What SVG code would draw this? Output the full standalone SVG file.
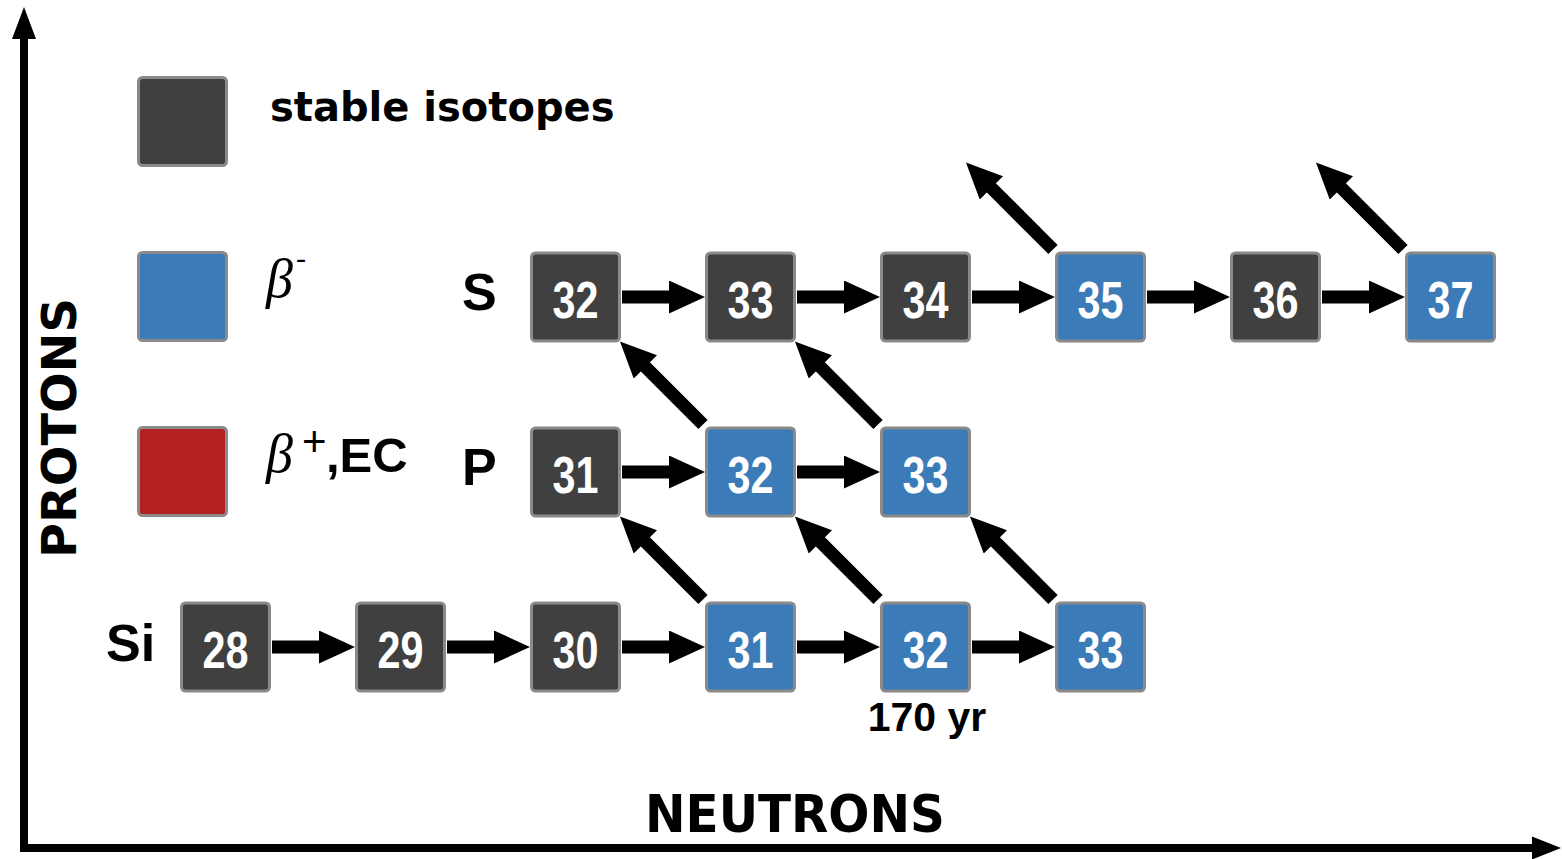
<svg xmlns="http://www.w3.org/2000/svg" width="1562" height="859" viewBox="0 0 1562 859">
  <style>
    .box { stroke: #8a8a8a; stroke-width: 3; }
    .stable { fill: #404040; }
    .bminus { fill: #3b7bb8; }
    .bplus { fill: #b22020; }
    .num { font-family: "Liberation Sans Narrow", "Liberation Sans", Arial, sans-serif; font-weight: bold; font-size: 52px; fill: #ffffff; text-anchor: middle; }
    .elem { font-family: "Liberation Sans", Arial, sans-serif; font-weight: bold; font-size: 52px; fill: #000000; }
    .legend { font-family: "DejaVu Sans", sans-serif; font-weight: bold; font-size: 40px; fill: #000000; }
    .greek { font-family: "Liberation Serif", "DejaVu Serif", serif; font-style: italic; font-size: 54px; fill: #000000; }
    .axis-label { font-family: "DejaVu Sans", sans-serif; font-weight: bold; fill: #000000; }
    .arrow { stroke: #000000; stroke-width: 13; fill: none; marker-end: url(#head); }
  </style>
  <defs>
    <marker id="head" markerUnits="userSpaceOnUse" markerWidth="36" markerHeight="33" refX="2" refY="16.5" orient="auto">
      <path d="M0,0 L36,16.5 L0,33 Z" fill="#000000"/>
    </marker>
  </defs>

  <rect width="1562" height="859" fill="#ffffff"/>

  <!-- axes -->
  <g id="axes">
    <path d="M24,36 V848 H1534" fill="none" stroke="#000000" stroke-width="8" stroke-linejoin="miter"/>
    <polygon points="12,39 24,7 36,39" fill="#000000"/>
    <polygon points="1532,836.5 1561,848 1532,859.5" fill="#000000"/>
    <text class="axis-label" font-size="48" text-anchor="middle" textLength="260" lengthAdjust="spacingAndGlyphs" transform="translate(76,428) rotate(-90)">PROTONS</text>
    <text class="axis-label" x="795" y="832" font-size="52" text-anchor="middle" textLength="300" lengthAdjust="spacingAndGlyphs">NEUTRONS</text>
  </g>

  <!-- legend -->
  <g id="legend-stable">
    <rect class="box stable" x="138.5" y="77.5" width="88" height="88" rx="4"/>
    <text class="legend" x="270" y="121">stable isotopes</text>
  </g>
  <g id="legend-beta-minus">
    <rect class="box bminus" x="138.5" y="252.5" width="88" height="88" rx="4"/>
    <text class="greek" x="266" y="297">β</text>
    <text x="296" y="268" font-family="Liberation Serif, serif" font-size="30" fill="#000000">-</text>
  </g>
  <g id="legend-beta-plus">
    <rect class="box bplus" x="138.5" y="427.5" width="88" height="88" rx="4"/>
    <text class="greek" x="266" y="472">β</text>
    <text x="302" y="456" font-family="Liberation Sans, sans-serif" font-size="42" fill="#000000">+</text>
    <text x="326" y="472" font-family="Liberation Sans, sans-serif" font-weight="bold" font-size="49" fill="#000000">,EC</text>
  </g>

  <!-- element row labels -->
  <g id="label-S"><text class="elem" x="462" y="310">S</text></g>
  <g id="label-P"><text class="elem" x="462" y="485">P</text></g>
  <g id="label-Si"><text class="elem" x="106" y="661">Si</text></g>

  <!-- connectors -->
  <g id="connectors">
    <!-- Si row captures -->
    <line class="arrow" x1="272" y1="647" x2="321" y2="647"/>
    <line class="arrow" x1="447" y1="647" x2="496" y2="647"/>
    <line class="arrow" x1="622" y1="647" x2="671" y2="647"/>
    <line class="arrow" x1="797" y1="647" x2="846" y2="647"/>
    <line class="arrow" x1="972" y1="647" x2="1021" y2="647"/>
    <!-- P row captures -->
    <line class="arrow" x1="622" y1="472" x2="671" y2="472"/>
    <line class="arrow" x1="797" y1="472" x2="846" y2="472"/>
    <!-- S row captures -->
    <line class="arrow" x1="622" y1="297" x2="671" y2="297"/>
    <line class="arrow" x1="797" y1="297" x2="846" y2="297"/>
    <line class="arrow" x1="972" y1="297" x2="1021" y2="297"/>
    <line class="arrow" x1="1147" y1="297" x2="1196" y2="297"/>
    <line class="arrow" x1="1322" y1="297" x2="1371" y2="297"/>
    <!-- beta decays -->
    <line class="arrow" x1="703" y1="599.5" x2="644" y2="540.5"/>
    <line class="arrow" x1="878" y1="599.5" x2="819" y2="540.5"/>
    <line class="arrow" x1="1053" y1="599.5" x2="994" y2="540.5"/>
    <line class="arrow" x1="703" y1="424.5" x2="644" y2="365.5"/>
    <line class="arrow" x1="878" y1="424.5" x2="819" y2="365.5"/>
    <line class="arrow" x1="1053" y1="249.5" x2="990" y2="186.5"/>
    <line class="arrow" x1="1403" y1="249.5" x2="1340" y2="186.5"/>
  </g>

  <!-- Si isotopes -->
  <g id="Si28"><rect class="box stable" x="181.5" y="603" width="88" height="88" rx="4"/><text class="num" x="225.5" y="668" textLength="46" lengthAdjust="spacingAndGlyphs">28</text></g>
  <g id="Si29"><rect class="box stable" x="356.5" y="603" width="88" height="88" rx="4"/><text class="num" x="400.5" y="668" textLength="46" lengthAdjust="spacingAndGlyphs">29</text></g>
  <g id="Si30"><rect class="box stable" x="531.5" y="603" width="88" height="88" rx="4"/><text class="num" x="575.5" y="668" textLength="46" lengthAdjust="spacingAndGlyphs">30</text></g>
  <g id="Si31"><rect class="box bminus" x="706.5" y="603" width="88" height="88" rx="4"/><text class="num" x="750.5" y="668" textLength="46" lengthAdjust="spacingAndGlyphs">31</text></g>
  <g id="Si32"><rect class="box bminus" x="881.5" y="603" width="88" height="88" rx="4"/><text class="num" x="925.5" y="668" textLength="46" lengthAdjust="spacingAndGlyphs">32</text>
    <text x="927" y="731" font-family="Liberation Sans, Arial, sans-serif" font-weight="bold" font-size="41" text-anchor="middle" fill="#000000">170 yr</text></g>
  <g id="Si33"><rect class="box bminus" x="1056.5" y="603" width="88" height="88" rx="4"/><text class="num" x="1100.5" y="668" textLength="46" lengthAdjust="spacingAndGlyphs">33</text></g>

  <!-- P isotopes -->
  <g id="P31"><rect class="box stable" x="531.5" y="428" width="88" height="88" rx="4"/><text class="num" x="575.5" y="493" textLength="46" lengthAdjust="spacingAndGlyphs">31</text></g>
  <g id="P32"><rect class="box bminus" x="706.5" y="428" width="88" height="88" rx="4"/><text class="num" x="750.5" y="493" textLength="46" lengthAdjust="spacingAndGlyphs">32</text></g>
  <g id="P33"><rect class="box bminus" x="881.5" y="428" width="88" height="88" rx="4"/><text class="num" x="925.5" y="493" textLength="46" lengthAdjust="spacingAndGlyphs">33</text></g>

  <!-- S isotopes -->
  <g id="S32"><rect class="box stable" x="531.5" y="253" width="88" height="88" rx="4"/><text class="num" x="575.5" y="318" textLength="46" lengthAdjust="spacingAndGlyphs">32</text></g>
  <g id="S33"><rect class="box stable" x="706.5" y="253" width="88" height="88" rx="4"/><text class="num" x="750.5" y="318" textLength="46" lengthAdjust="spacingAndGlyphs">33</text></g>
  <g id="S34"><rect class="box stable" x="881.5" y="253" width="88" height="88" rx="4"/><text class="num" x="925.5" y="318" textLength="46" lengthAdjust="spacingAndGlyphs">34</text></g>
  <g id="S35"><rect class="box bminus" x="1056.5" y="253" width="88" height="88" rx="4"/><text class="num" x="1100.5" y="318" textLength="46" lengthAdjust="spacingAndGlyphs">35</text></g>
  <g id="S36"><rect class="box stable" x="1231.5" y="253" width="88" height="88" rx="4"/><text class="num" x="1275.5" y="318" textLength="46" lengthAdjust="spacingAndGlyphs">36</text></g>
  <g id="S37"><rect class="box bminus" x="1406.5" y="253" width="88" height="88" rx="4"/><text class="num" x="1450.5" y="318" textLength="46" lengthAdjust="spacingAndGlyphs">37</text></g>
</svg>
